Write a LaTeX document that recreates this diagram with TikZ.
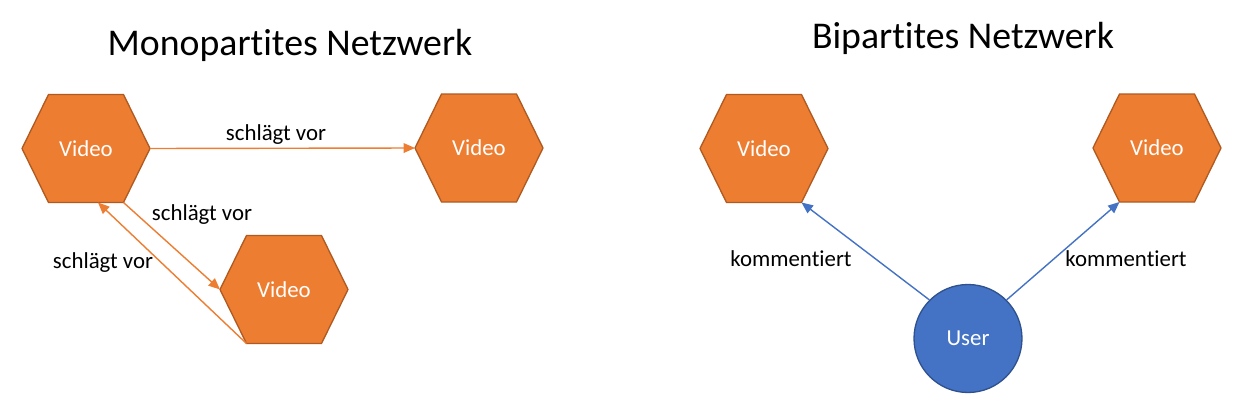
\documentclass[tikz,border=0pt]{standalone}
\usepackage{fontspec}
\setmainfont[Ligatures=NoCommon]{Carlito}
\usepackage{tikz}
\usetikzlibrary{
    arrows.meta,
    positioning,
    calc
}
\definecolor{vidorange}{RGB}{237, 125, 49}
\definecolor{vidborder}{RGB}{174, 90, 33}
\definecolor{userblue}{RGB}{68, 114, 196}
\definecolor{userborder}{RGB}{47, 82, 143}

\begin{document}
\begin{tikzpicture}[x=0.02cm, y=-0.02cm,
        hexbox/.style={fill=vidorange, draw=vidborder, line width=0.75pt, line join=miter},
        hexlabel/.style={text=white, font=\fontsize{13}{15}\selectfont, inner sep=0pt},
        userbox/.style={circle, fill=userblue, draw=userborder, line width=0.75pt,
            minimum size=2.16cm, inner sep=0pt, text=white, font=\fontsize{13}{15}\selectfont},
        vidarrow/.style={draw=vidorange, line width=0.8pt,
            -{Triangle[length=6.5pt, width=5.5pt]}},
        userarrow/.style={draw=userblue, line width=0.8pt,
            -{Triangle[length=6.5pt, width=5.5pt]}},
        edgelabel/.style={anchor=base, font=\fontsize{13}{15}\selectfont, inner sep=0pt},
        titlelabel/.style={anchor=base, font=\fontsize{21.5}{26}\selectfont, inner sep=0pt}
    ]
        \useasboundingbox (0,0) rectangle (1242,416);

        % Titles
        \node[titlelabel] (monotitle) at (290,55) {Monopartites Netzwerk};
        \node[titlelabel] (bititle) at (963,48) {Bipartites Netzwerk};

        % Video hexagons
        \foreach \n/\cx/\cy in {h1/86/148.5, h2/479/148, h3/284/289.5, h4/764/148.5, h5/1157/148} {
            \begin{scope}[shift={(\cx,\cy)}]
                \draw[hexbox] (-64,0) coordinate (\n-w) -- (-37.5,-54) coordinate (\n-nw)
                    -- (37.5,-54) coordinate (\n-ne) -- (64,0) coordinate (\n-e)
                    -- (37.5,54) coordinate (\n-se) -- (-37.5,54) coordinate (\n-sw) -- cycle;
                \node[hexlabel] (\n) at (0,0) {Video};
            \end{scope}
        }

        % User node
        \node[userbox] (user) at (968,338.5) {User};

        % Monopartite edges
        \coordinate (h1-back) at ($(h1-sw)!0.66!(h1-se)$);
        \draw[vidarrow] (h1-e) -- (h2-w);
        \draw[vidarrow] (h1-se) -- (h3-w);
        \draw[vidarrow] (h3-sw) -- (h1-back);
        \node[edgelabel] (lab12) at (276,140) {schlägt vor};
        \node[edgelabel] (lab13) at (202,220) {schlägt vor};
        \node[edgelabel] (lab31) at (103,268) {schlägt vor};

        % Bipartite edges
        \draw[userarrow] (user.north west) -- (h4-se);
        \draw[userarrow] (user.north east) -- (h5-sw);
        \node[edgelabel] (labu4) at (791,266) {kommentiert};
        \node[edgelabel] (labu5) at (1126,266) {kommentiert};
    \end{tikzpicture}
\end{document}
